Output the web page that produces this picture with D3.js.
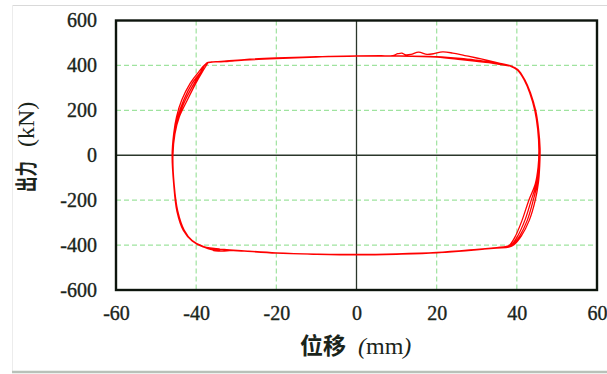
<!DOCTYPE html>
<html>
<head>
<meta charset="utf-8">
<script src="https://cdn.jsdelivr.net/npm/d3@7"></script>
<style>
  html, body { margin: 0; padding: 0; background: #fff; }
  svg { display: block; }
</style>
</head>
<body>
<svg id="chart" width="607" height="374"></svg>
<script>
// Axis ticks
const xTicks = [-60, -40, -20, 0, 20, 40, 60];
const yTicks = [-600, -400, -200, 0, 200, 400, 600];
const xGrid = [-40, -20, 20, 40];
const yGrid = [-400, -200, 200, 400];

// Hysteresis record: displacement (mm), load (kN), one array per cycle
const cycle1 = [
  [-37.0, 413], [-33, 419], [-28, 426], [-20, 433], [-10, 439], [0, 442.5], [6, 443], [9, 444],
  [10.3, 452], [11.3, 455], [12.3, 447], [13.6, 449], [15.5, 459], [17.6, 449], [19.2, 452],
  [21.5, 460], [24, 455], [27, 444], [30, 433], [33, 421], [35.8, 409],
  [38.5, 398], [40.3, 381], [41.9, 338], [43.3, 280], [44.7, 200], [45.4, 120], [45.8, 30],
  [45.7, -50], [45.4, -120], [44.6, -200], [43.1, -290], [41.1, -360], [39.3, -398], [38, -409],
  [35, -413], [30, -420], [20, -435], [10, -441], [0, -443.5], [-10, -441], [-20, -436],
  [-28, -427], [-33, -421], [-38.3, -408],
  [-41, -382], [-43.2, -335], [-44.8, -250], [-45.6, -130], [-46, 0], [-45.6, 97],
  [-44.9, 171], [-43.6, 246], [-41.5, 320], [-39.4, 370]
];
const cycle2 = [
  [-37.2, 411], [-33, 418], [-28, 425], [-20, 432], [-10, 438], [0, 442], [10, 442.5],
  [20, 439], [26, 431], [30, 423], [33, 416], [36, 407],
  [38.7, 396], [40.4, 378], [42, 336], [43.4, 278], [44.7, 198], [45.4, 115], [45.7, 25],
  [45.5, -55], [45.1, -125], [44.1, -200], [42.6, -290], [40.7, -360], [39, -398], [37.8, -408],
  [35, -412], [30, -421], [20, -434], [10, -440], [0, -443], [-10, -440.5], [-20, -435.5],
  [-28, -426], [-31, -424], [-33.5, -426.5], [-35.6, -425], [-36, -418.5], [-34.3, -417],
  [-34.0, -421], [-36.2, -420], [-38.2, -408],
  [-41, -381], [-43.1, -333], [-44.7, -248], [-45.6, -128], [-45.9, 2], [-45.5, 95],
  [-44.6, 171], [-43.1, 246], [-41, 320], [-39, 368]
];
const cycle3 = [
  [-37.3, 410], [-33, 417], [-28, 424], [-20, 431], [-10, 437.5], [0, 441.5], [10, 442],
  [20, 438], [26, 428], [30, 420], [33, 414], [35.8, 406],
  [38.6, 397], [40.3, 379], [41.9, 337], [43.3, 279], [44.6, 199], [45.3, 117], [45.6, 28],
  [45.4, -52], [44.9, -125], [43.6, -200], [42.0, -290], [40.2, -360], [38.7, -398], [37.6, -407],
  [35, -411.5], [30, -419.5], [20, -433.5], [10, -440], [0, -442.5], [-10, -440.5], [-20, -435],
  [-28, -426], [-33, -420], [-38.2, -407.5],
  [-41, -381], [-43.1, -334], [-44.7, -249], [-45.6, -129], [-45.9, 1], [-45.4, 96],
  [-44.4, 171], [-42.7, 246], [-40.5, 320], [-38.8, 369]
];
const cycle4 = [
  [-37.4, 410], [-33, 416.5], [-28, 423.5], [-20, 430.5], [-10, 437], [0, 441], [10, 441.5],
  [20, 437], [26, 426], [30, 418], [33, 412], [35.6, 405],
  [38.5, 396], [40.2, 378], [41.8, 336], [43.2, 278], [44.5, 198], [45.2, 116], [45.5, 26],
  [45.3, -54], [44.6, -128], [43.0, -200], [41.3, -290], [39.6, -362], [38.3, -398], [37.4, -406],
  [35, -411], [30, -419], [20, -433], [10, -439.5], [0, -442], [-10, -440], [-20, -434.5],
  [-28, -425.5], [-33, -419.5], [-38.1, -407],
  [-41, -380], [-43, -333], [-44.6, -248], [-45.5, -128], [-45.8, 0], [-45.3, 95],
  [-44.2, 171], [-42.2, 246], [-40.1, 320], [-38.5, 370]
];
const cycles = [cycle1, cycle2, cycle3, cycle4];

const svg = d3.select("#chart");
const W = 607, H = 374;

// Outer frame of the figure
svg.append("line").attr("x1", 12).attr("x2", W).attr("y1", 5.5).attr("y2", 5.5)
  .attr("stroke", "#d9d9d9").attr("stroke-width", 1);
svg.append("line").attr("x1", 12.5).attr("x2", 12.5).attr("y1", 5).attr("y2", 371)
  .attr("stroke", "#ececec").attr("stroke-width", 1);
svg.append("line").attr("x1", 12).attr("x2", W).attr("y1", 372).attr("y2", 372)
  .attr("stroke", "#b9c1b9").attr("stroke-width", 2.5);

const plotL = 116, plotR = 597, plotT = 20.5, plotB = 290;
const x = d3.scaleLinear().domain([-60, 60]).range([plotL, plotR]);
const y = d3.scaleLinear().domain([-600, 600]).range([plotB, plotT]);

// Dashed grid
const grid = svg.append("g").attr("stroke", "#9fe39f").attr("stroke-width", 1.2)
  .attr("stroke-dasharray", "5,3");
grid.selectAll("line.vx").data(xGrid).join("line")
  .attr("x1", d => x(d)).attr("x2", d => x(d)).attr("y1", plotT).attr("y2", plotB);
grid.selectAll("line.hy").data(yGrid).join("line")
  .attr("x1", plotL).attr("x2", plotR).attr("y1", d => y(d)).attr("y2", d => y(d));

// Zero lines
svg.append("line").attr("x1", x(0)).attr("x2", x(0)).attr("y1", plotT).attr("y2", plotB)
  .attr("stroke", "#2b362b").attr("stroke-width", 1.3);
svg.append("line").attr("x1", plotL).attr("x2", plotR).attr("y1", y(0)).attr("y2", y(0))
  .attr("stroke", "#2b362b").attr("stroke-width", 1.3);

// Load-displacement loops
const pts = d3.merge(cycles);
pts.push(cycles[0][0]);
const line = d3.line().x(d => x(d[0])).y(d => y(d[1])).curve(d3.curveCatmullRom.alpha(0.5));
svg.append("path").datum(pts).attr("d", line)
  .attr("fill", "none").attr("stroke", "#ff0000").attr("stroke-width", 1.3)
  .attr("stroke-linejoin", "round");

// Plot border
svg.append("rect").attr("x", plotL).attr("y", plotT).attr("width", plotR - plotL).attr("height", plotB - plotT)
  .attr("fill", "none").attr("stroke", "#0d150d").attr("stroke-width", 2.4);

// Tick labels (plain hyphen for negatives)
const tickFont = "'Liberation Serif', 'Times New Roman', serif";
const fmt = d => String(d);
const gy = svg.append("g").attr("transform", `translate(${plotL},0)`)
  .call(d3.axisLeft(y).tickValues(yTicks).tickFormat(fmt).tickSize(0).tickPadding(19));
const gx = svg.append("g").attr("transform", `translate(0,${plotB})`)
  .call(d3.axisBottom(x).tickValues(xTicks).tickFormat(fmt).tickSize(0).tickPadding(16));
[gx, gy].forEach(g => {
  g.select(".domain").remove();
  g.selectAll("text").attr("font-family", tickFont).attr("font-size", 20)
    .attr("fill", "#1a241a").attr("stroke", "#1a241a").attr("stroke-width", 0.35);
});

// Axis titles
const cjk = "'Noto Sans CJK SC', 'Noto Sans CJK JP', sans-serif";
const xt = svg.append("text").attr("y", 354).attr("fill", "#1a241a");
xt.append("tspan").attr("x", 300).attr("font-family", cjk).attr("font-weight", 700).attr("font-size", 23).text("位移");
xt.append("tspan").attr("x", 358).attr("font-family", tickFont).attr("font-size", 24).attr("font-style", "italic").text("(");
xt.append("tspan").attr("font-family", tickFont).attr("font-size", 24).text("mm");
xt.append("tspan").attr("font-family", tickFont).attr("font-size", 24).attr("font-style", "italic").text(")");

const yt = svg.append("g").attr("transform", "translate(34,192) rotate(-90)").attr("fill", "#1a241a");
yt.append("text").attr("transform", "scale(0.7,1)").attr("font-family", cjk).attr("font-weight", 700)
  .attr("font-size", 22).text("出力");
yt.append("text").attr("x", 45).attr("font-family", tickFont).attr("font-size", 24).text("(kN)");
</script>
</body>
</html>
